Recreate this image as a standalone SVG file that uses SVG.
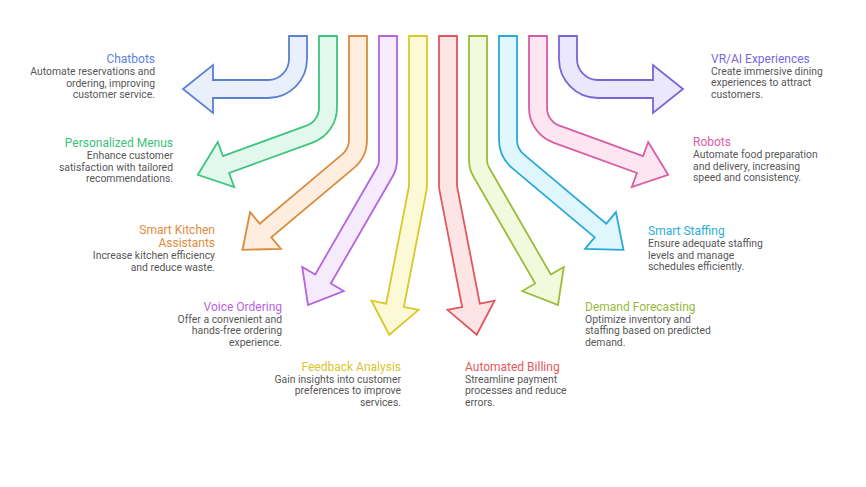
<svg xmlns="http://www.w3.org/2000/svg" width="866" height="487" viewBox="0 0 866 487">
<style>
.t{font-family:Roboto,"Liberation Sans",sans-serif;font-size:12px}
.b{font-family:Roboto,"Liberation Sans",sans-serif;font-size:10.4px;fill:#575757}
.e{text-anchor:end}
.a{stroke-width:1.8;stroke-linejoin:miter}
</style>
<rect width="866" height="487" fill="#ffffff"/>
<g id="connectors">
<path id="a-chatbots" class="a" fill="#e9f0fc" stroke="#5a80d0" d="M289,36 H307 V59 A39,39 0 0 1 268,98 H213 V113 L183,89 L213,65 V80 H268 A21,21 0 0 0 289,59 Z"/>
<path id="a-menus" class="a" fill="#e2f8ec" stroke="#3ec47e" d="M319,36 H337 V107.8 A37,37 0 0 1 312.65,142.57 L229.08,172.96 L234.21,187.05 L197.81,174.76 L217.79,141.95 L222.92,156.04 L306.5,125.65 A19,19 0 0 0 319,107.8 Z"/>
<path id="a-kitchen" class="a" fill="#fdeee0" stroke="#d98b3e" d="M349,36 H367 V139.8 A37,37 0 0 1 353.78,168.14 L271.29,237.39 L280.93,248.88 L242.52,249.78 L250.07,212.12 L259.71,223.61 L342.21,154.35 A19,19 0 0 0 349,139.8 Z"/>
<path id="a-voice" class="a" fill="#f6ebfd" stroke="#b464dc" d="M379,36 H397 V160 A33,33 0 0 1 392.58,176.5 L330.79,283.5 L343.78,291 L308,304.98 L302.22,267 L315.21,274.5 L376.99,167.5 A15,15 0 0 0 379,160 Z"/>
<path id="a-feedback" class="a" fill="#fcf9d6" stroke="#d8c828" d="M409,36 H427 V184.3 A37,37 0 0 1 426.32,191.36 L403.83,307.02 L418.56,309.88 L389.28,334.75 L371.44,300.72 L386.17,303.58 L408.65,187.93 A19,19 0 0 0 409,184.3 Z"/>
<g transform="translate(866,0) scale(-1,1)">
<path id="a-billing" class="a" fill="#fde5e5" stroke="#e0585e" d="M409,36 H427 V184.3 A37,37 0 0 1 426.32,191.36 L403.83,307.02 L418.56,309.88 L389.28,334.75 L371.44,300.72 L386.17,303.58 L408.65,187.93 A19,19 0 0 0 409,184.3 Z"/>
<path id="a-demand" class="a" fill="#f3f9dc" stroke="#9cbc3c" d="M379,36 H397 V160 A33,33 0 0 1 392.58,176.5 L330.79,283.5 L343.78,291 L308,304.98 L302.22,267 L315.21,274.5 L376.99,167.5 A15,15 0 0 0 379,160 Z"/>
<path id="a-staffing" class="a" fill="#dff6fd" stroke="#2aaad6" d="M349,36 H367 V139.8 A37,37 0 0 1 353.78,168.14 L271.29,237.39 L280.93,248.88 L242.52,249.78 L250.07,212.12 L259.71,223.61 L342.21,154.35 A19,19 0 0 0 349,139.8 Z"/>
<path id="a-robots" class="a" fill="#fde5f1" stroke="#da5ca2" d="M319,36 H337 V107.8 A37,37 0 0 1 312.65,142.57 L229.08,172.96 L234.21,187.05 L197.81,174.76 L217.79,141.95 L222.92,156.04 L306.5,125.65 A19,19 0 0 0 319,107.8 Z"/>
<path id="a-vrai" class="a" fill="#ebe8fb" stroke="#7b64d6" d="M289,36 H307 V59 A39,39 0 0 1 268,98 H213 V113 L183,89 L213,65 V80 H268 A21,21 0 0 0 289,59 Z"/>
</g>
</g>
<g id="chatbots">
<text class="t e" x="155" y="63" fill="#5b82dc">Chatbots</text>
<text class="b e" x="155" y="75">Automate reservations and</text>
<text class="b e" x="155" y="86.7">ordering, improving</text>
<text class="b e" x="155" y="98.4">customer service.</text>
</g>
<g id="personalized-menus">
<text class="t e" x="173" y="147" fill="#3dbf78">Personalized Menus</text>
<text class="b e" x="173" y="159">Enhance customer</text>
<text class="b e" x="173" y="170.7">satisfaction with tailored</text>
<text class="b e" x="173" y="182.4">recommendations.</text>
</g>
<g id="smart-kitchen">
<text class="t e" x="215" y="233.5" fill="#e08b3c">Smart Kitchen</text>
<text class="t e" x="215" y="247" fill="#e08b3c">Assistants</text>
<text class="b e" x="215" y="259">Increase kitchen efficiency</text>
<text class="b e" x="215" y="270.7">and reduce waste.</text>
</g>
<g id="voice-ordering">
<text class="t e" x="282" y="310.5" fill="#b864e0">Voice Ordering</text>
<text class="b e" x="282" y="322.5">Offer a convenient and</text>
<text class="b e" x="282" y="334.2">hands-free ordering</text>
<text class="b e" x="282" y="345.9">experience.</text>
</g>
<g id="feedback-analysis">
<text class="t e" x="401" y="370.5" fill="#d9c62c">Feedback Analysis</text>
<text class="b e" x="401" y="382.5">Gain insights into customer</text>
<text class="b e" x="401" y="394.2">preferences to improve</text>
<text class="b e" x="401" y="405.9">services.</text>
</g>
<g id="vr-ai">
<text class="t" x="711" y="62.5" fill="#7a68de">VR/AI Experiences</text>
<text class="b" x="711" y="74.5">Create immersive dining</text>
<text class="b" x="711" y="86.2">experiences to attract</text>
<text class="b" x="711" y="97.9">customers.</text>
</g>
<g id="robots">
<text class="t" x="693" y="146" fill="#e25ca8">Robots</text>
<text class="b" x="693" y="158">Automate food preparation</text>
<text class="b" x="693" y="169.7">and delivery, increasing</text>
<text class="b" x="693" y="181.4">speed and consistency.</text>
</g>
<g id="smart-staffing">
<text class="t" x="648" y="235" fill="#2badd9">Smart Staffing</text>
<text class="b" x="648" y="247">Ensure adequate staffing</text>
<text class="b" x="648" y="258.7">levels and manage</text>
<text class="b" x="648" y="270.4">schedules efficiently.</text>
</g>
<g id="demand-forecasting">
<text class="t" x="585" y="310.5" fill="#98ba3c">Demand Forecasting</text>
<text class="b" x="585" y="322.5">Optimize inventory and</text>
<text class="b" x="585" y="334.2">staffing based on predicted</text>
<text class="b" x="585" y="345.9">demand.</text>
</g>
<g id="automated-billing">
<text class="t" x="465" y="370.5" fill="#e35b5b">Automated Billing</text>
<text class="b" x="465" y="382.5">Streamline payment</text>
<text class="b" x="465" y="394.2">processes and reduce</text>
<text class="b" x="465" y="405.9">errors.</text>
</g>
</svg>
